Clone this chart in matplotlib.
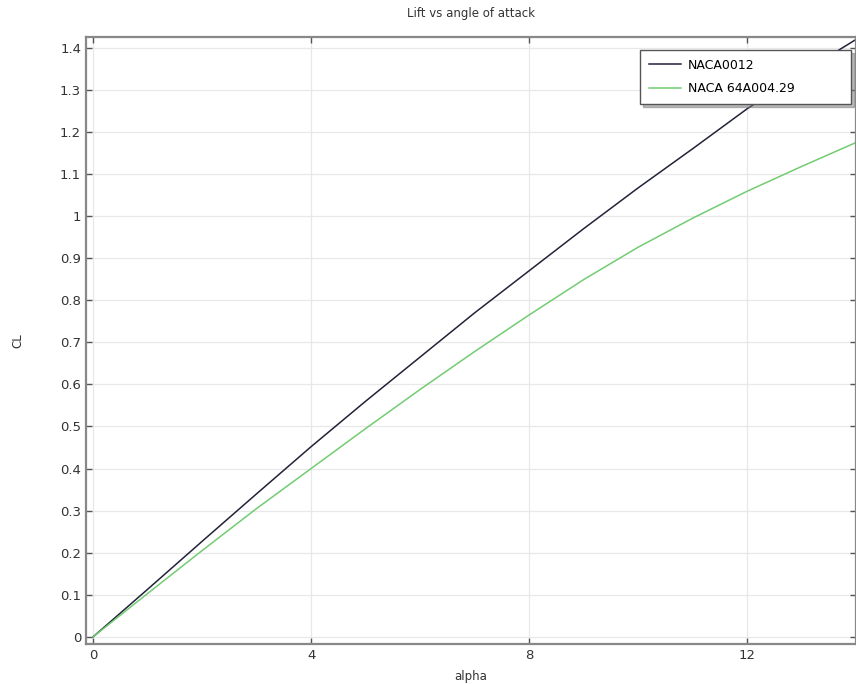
import matplotlib
matplotlib.use("Agg")
import matplotlib.pyplot as plt
from matplotlib.ticker import FuncFormatter

# angle of attack (deg) and lift coefficient
alpha = [0, 1, 2, 3, 4, 5, 6, 7, 8, 9, 10, 11, 12, 13, 14]
cl_naca0012 = [0, 0.113, 0.227, 0.34, 0.452, 0.56, 0.665, 0.77, 0.87,
               0.97, 1.067, 1.16, 1.255, 1.34, 1.42]
cl_naca64a = [0, 0.103, 0.205, 0.305, 0.40, 0.495, 0.588, 0.678, 0.765,
              0.849, 0.926, 0.995, 1.059, 1.118, 1.175]

x_ticks = [0, 4, 8, 12]
y_ticks = [0, 0.1, 0.2, 0.3, 0.4, 0.5, 0.6, 0.7, 0.8, 0.9, 1.0, 1.1, 1.2, 1.3, 1.4]

fig = plt.figure(figsize=(8.56, 6.84), dpi=100)
ax = fig.add_axes([0.1005, 0.0585, 0.8995, 0.8875])

ax.plot(alpha, cl_naca0012, color="#22223a", linewidth=1.1, label="NACA0012")
ax.plot(alpha, cl_naca64a, color="#72cc72", linewidth=1.1, label="NACA 64A004.29")

ax.set_xlim(-0.13, 14.0)
ax.set_ylim(-0.017, 1.426)
ax.set_xticks(x_ticks)
ax.set_yticks(y_ticks)
ax.yaxis.set_major_formatter(FuncFormatter(lambda v, p: f"{v:g}"))

ax.grid(True, color="#e8e8e8", linewidth=0.9)
ax.set_axisbelow(True)
ax.tick_params(direction="in", length=4, width=1, color="#555555",
               labelsize=9.5, labelcolor="#333333", top=True, right=True)
for s in ax.spines.values():
    s.set_color("#888888")
    s.set_linewidth(1.6)

ax.set_title("Lift vs angle of attack", fontsize=8.5, color="#333333", pad=14)
ax.set_xlabel("alpha", fontsize=8.5, color="#333333", labelpad=6)
ax.set_ylabel("CL", fontsize=8.5, color="#333333", labelpad=26)

# legend box stretched to the width seen in the reference
leg = ax.legend(loc="upper left", bbox_to_anchor=(0.7195, 0.5, 0.274, 0.4786),
                mode="expand", fontsize=9, fancybox=False,
                shadow={"ox": 2, "oy": -2, "color": "#777777"},
                framealpha=1, borderpad=0.7, borderaxespad=0,
                handlelength=2.6, handletextpad=0.5, labelspacing=0.85)
leg.get_frame().set_edgecolor("#555555")
leg.get_frame().set_linewidth(1.0)

fig.savefig("out.png", dpi=100)
